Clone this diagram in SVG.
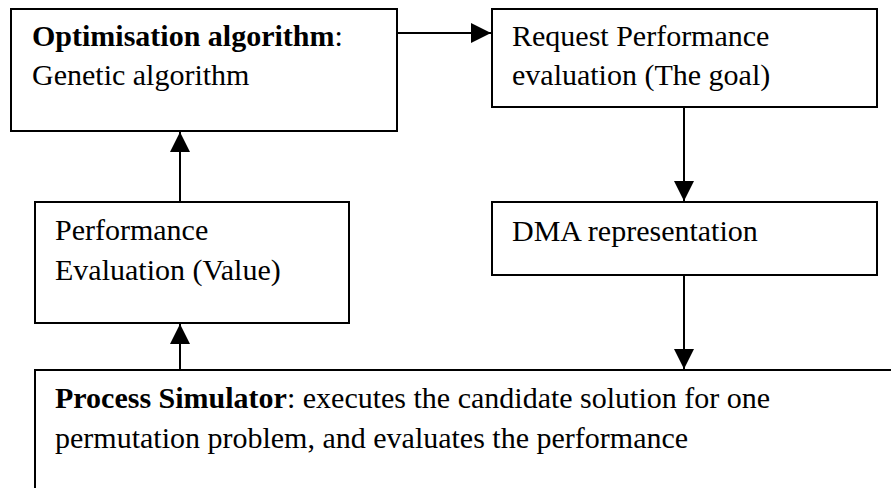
<svg xmlns="http://www.w3.org/2000/svg" width="891" height="488" viewBox="0 0 891 488">
  <style>
    .box { fill: #ffffff; stroke: #000000; stroke-width: 2; }
    .lbl { font-family: "Liberation Serif", "Times New Roman", serif; font-size: 30px; fill: #000000; }
    .b { font-weight: bold; }
    .wire { stroke: #000000; stroke-width: 2; fill: none; }
  </style>
  <defs>
    <marker id="head" viewBox="0 0 20 20" refX="20" refY="10" markerWidth="20" markerHeight="20" markerUnits="userSpaceOnUse" orient="auto">
      <path d="M0,0 L20,10 L0,20 Z" fill="#000000"/>
    </marker>
  </defs>
  <rect width="891" height="488" fill="#ffffff"/>

  <g id="optimiser">
    <rect class="box" x="11" y="9" width="386" height="122"/>
    <text class="lbl" x="32" y="46"><tspan class="b">Optimisation algorithm</tspan>:</text>
    <text class="lbl" x="32" y="85">Genetic algorithm</text>
  </g>

  <g id="request">
    <rect class="box" x="492" y="9" width="385" height="98"/>
    <text class="lbl" x="512" y="46">Request Performance</text>
    <text class="lbl" x="512" y="85">evaluation (The goal)</text>
  </g>

  <g id="dma">
    <rect class="box" x="492" y="202" width="385" height="73"/>
    <text class="lbl" x="512" y="241">DMA representation</text>
  </g>

  <g id="evaluation">
    <rect class="box" x="35" y="202" width="314" height="121"/>
    <text class="lbl" x="55" y="240">Performance</text>
    <text class="lbl" x="55" y="280">Evaluation (Value)</text>
  </g>

  <g id="simulator">
    <rect class="box" x="35" y="370" width="900" height="160"/>
    <text class="lbl" x="55" y="408"><tspan class="b">Process Simulator</tspan>: executes the candidate solution for one</text>
    <text class="lbl" x="55" y="448">permutation problem, and evaluates the performance</text>
  </g>

  <g id="connectors">
    <line class="wire" x1="396" y1="33" x2="491" y2="33" marker-end="url(#head)"/>
    <line class="wire" x1="684" y1="107" x2="684" y2="201" marker-end="url(#head)"/>
    <line class="wire" x1="684" y1="275" x2="684" y2="369" marker-end="url(#head)"/>
    <line class="wire" x1="180" y1="369" x2="180" y2="324" marker-end="url(#head)"/>
    <line class="wire" x1="180" y1="202" x2="180" y2="132" marker-end="url(#head)"/>
  </g>
</svg>
